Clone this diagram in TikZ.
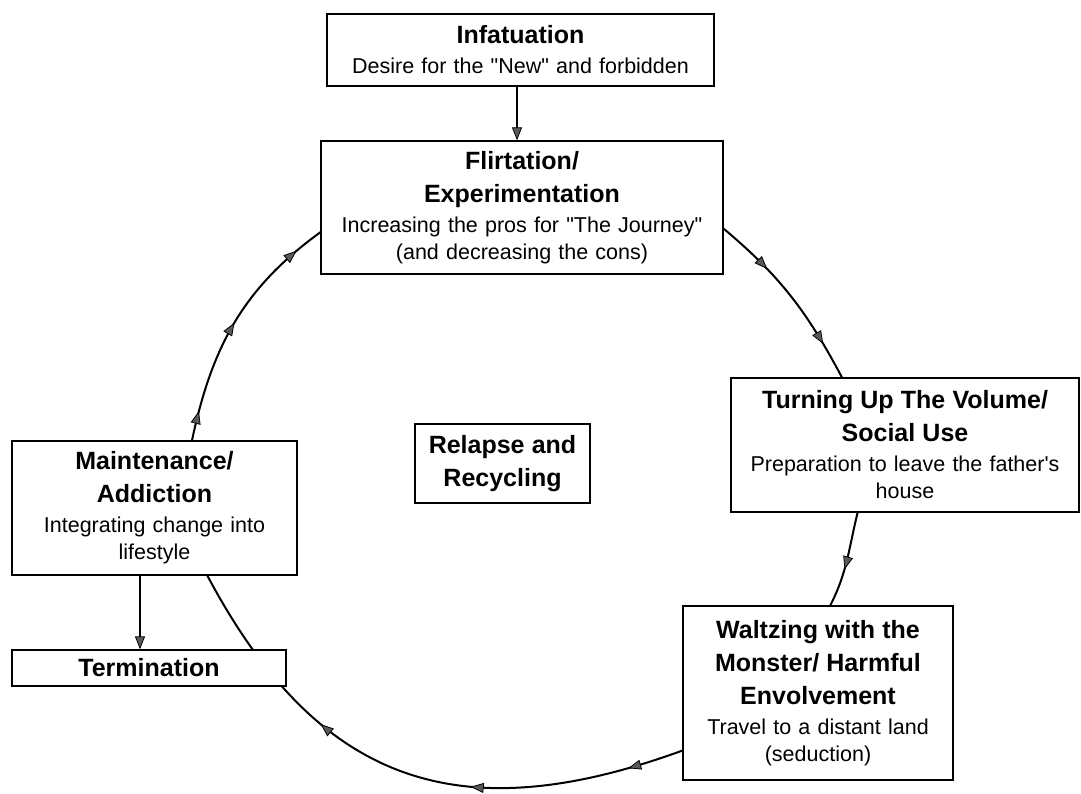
\documentclass[tikz,border=0pt]{standalone}
\usepackage{fontspec}
\setmainfont{Liberation Sans}
\usetikzlibrary{arrows.meta,decorations.markings,backgrounds}

\newcommand\stagetitle[1]{{\fontsize{25}{33}\selectfont\bfseries #1\par}}
\newcommand\stage[2]{\stagetitle{#1}\vspace{3pt}#2}

\tikzset{
  stage/.style={draw, line width=1.3pt, fill=white, inner xsep=4pt, inner ysep=0pt,
    align=center, font=\fontsize{21.5}{27}\selectfont},
  cycleline/.style={line width=2pt},
  stagetip/.tip={Triangle[length=13pt,width=10pt,fill=gray!70!black,line width=0.8pt]},
  tipat/.style={postaction={decorate,decoration={markings,
    mark=at position #1 with {\arrow{stagetip}}}}}
}

\begin{document}
\begin{tikzpicture}[x=1pt,y=1pt]
\useasboundingbox (0,0) rectangle (1081,793);

\node[stage, text width=379pt, minimum height=72pt] (inf) at (520.5,743)
  {\stage{Infatuation}{Desire for the \textquotedbl New\textquotedbl{} and forbidden}};
\node[stage, text width=394pt, minimum height=133pt] (flirt) at (522,585.5)
  {\stage{Flirtation/\\Experimentation}{Increasing the pros for \textquotedbl The Journey\textquotedbl\\(and decreasing the cons)}};
\node[stage, text width=340pt, minimum height=134pt] (turn) at (905,348)
  {\stage{Turning Up The Volume/\\Social Use}{Preparation to leave the father\textquotesingle s\\house}};
\node[stage, text width=262pt, minimum height=174pt] (wal) at (818,100)
  {\stage{Waltzing with the\\Monster/ Harmful\\Envolvement}{Travel to a distant land\\(seduction)}};
\node[stage, text width=277pt, minimum height=134pt] (maint) at (154.5,285)
  {\stage{Maintenance/\\Addiction}{Integrating change into\\lifestyle}};
\node[stage, text width=266pt, minimum height=36pt] (term) at (149,125)
  {\stagetitle{Termination}};
\node[stage, text width=167pt, minimum height=79pt] (rel) at (502.5,329.5)
  {\stagetitle{Relapse and\\Recycling}};

% the cycle
\begin{pgfonlayer}{background}
\draw[cycleline, tipat=0.31, tipat=0.8] (flirt.-6) to[out=-40,in=118] (turn.133);
\draw[cycleline, tipat=0.6] (turn.235) to[out=256,in=63] (wal.82);
\draw[cycleline, tipat=0.1, tipat=0.38, tipat=0.67] (wal.203) to[out=200,in=-62,looseness=1.2] (maint.-52);
\draw[cycleline, tipat=0.12, tipat=0.5, tipat=0.88] (maint.61) to[out=78,in=216] (flirt.187);
\end{pgfonlayer}

\draw[cycleline, -stagetip] ([xshift=-3.5pt]inf.south) -- ([xshift=-5pt]flirt.north);
\draw[cycleline, -stagetip] ([xshift=-14.5pt]maint.south) -- ([xshift=-9pt]term.north);

\end{tikzpicture}
\end{document}
